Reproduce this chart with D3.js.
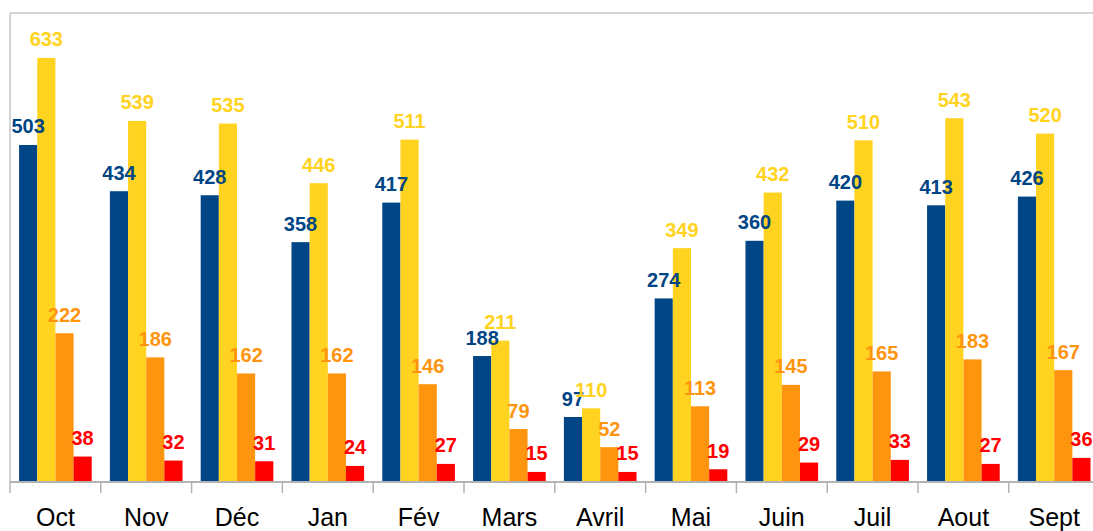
<!DOCTYPE html>
<html><head><meta charset="utf-8">
<script src="https://cdn.jsdelivr.net/npm/d3@7"></script>
<style>html,body{margin:0;padding:0;background:#fff;overflow:hidden}</style>
</head><body>
<svg id="c" width="1093" height="531"></svg>
<script>
const months = ["Oct","Nov","Déc","Jan","Fév","Mars","Avril","Mai","Juin","Juil","Aout","Sept"];
const seriesNames = ["s1","s2","s3","s4"];
const s1 = [503,434,428,358,417,188,97,274,360,420,413,426];
const s2 = [633,539,535,446,511,211,110,349,432,510,543,520];
const s3 = [222,186,162,162,146,79,52,113,145,165,183,167];
const s4 = [38,32,31,24,27,15,15,19,29,33,27,36];
const colors = ["#004586","#ffd320","#ff950e","#ff0000"];
const series = [s1,s2,s3,s4];

const svg = d3.select("#c");
const pLeft = 10, pTop = 13, pBottom = 482, step = 90.8;
const pRight = pLeft + months.length*step;
const x = d3.scaleBand().domain(months).range([pLeft,pRight]).paddingInner(0.2).paddingOuter(0.1);
const xs = d3.scaleBand().domain(seriesNames).range([0,x.bandwidth()]).padding(0);
const y = d3.scaleLinear().domain([0,700]).range([pBottom,pTop]);

// frame
svg.append("line").attr("x1",pLeft).attr("x2",1093).attr("y1",pTop).attr("y2",pTop).attr("stroke","#d4d4d4").attr("stroke-width",2);
svg.append("line").attr("x1",pLeft).attr("x2",pLeft).attr("y1",pTop).attr("y2",pBottom).attr("stroke","#d4d4d4").attr("stroke-width",2);

const g = svg.append("g");
series.forEach((vals,si)=>{
  g.selectAll(null).data(months).enter().append("rect")
    .attr("x",d=>x(d)+xs(seriesNames[si]))
    .attr("width",xs.bandwidth())
    .attr("y",(d,i)=>y(vals[i]))
    .attr("height",(d,i)=>pBottom-y(vals[i]))
    .attr("fill",colors[si]);
});
series.forEach((vals,si)=>{
  g.selectAll(null).data(months).enter().append("text")
    .attr("x",d=>x(d)+xs(seriesNames[si])+xs.bandwidth()/2)
    .attr("y",(d,i)=>y(vals[i])-11.5)
    .attr("text-anchor","middle")
    .attr("font-family","Liberation Sans, Arial, sans-serif")
    .attr("font-weight","bold")
    .attr("font-size","20px")
    .attr("fill",colors[si])
    .text((d,i)=>vals[i]);
});

// x axis
svg.append("line").attr("x1",pLeft).attr("x2",1093).attr("y1",pBottom).attr("y2",pBottom).attr("stroke","#b3b3b3").attr("stroke-width",2);
const bounds = d3.range(months.length+1).map(i=> i<months.length ? x(months[i]) - x.step()*x.paddingInner()/2 : x(months[i-1]) + x.bandwidth() + x.step()*x.paddingInner()/2);
svg.selectAll(null).data(bounds).enter().append("line")
  .attr("x1",d=>d).attr("x2",d=>d).attr("y1",pBottom).attr("y2",pBottom+11)
  .attr("stroke","#b3b3b3").attr("stroke-width",1.5);
svg.selectAll(null).data(months).enter().append("text")
  .attr("x",d=>x(d)+x.bandwidth()/2)
  .attr("y",526)
  .attr("text-anchor","middle")
  .attr("font-family","Liberation Sans, Arial, sans-serif")
  .attr("font-size","25px")
  .attr("fill","#000")
  .text(d=>d);
</script>
</body></html>
